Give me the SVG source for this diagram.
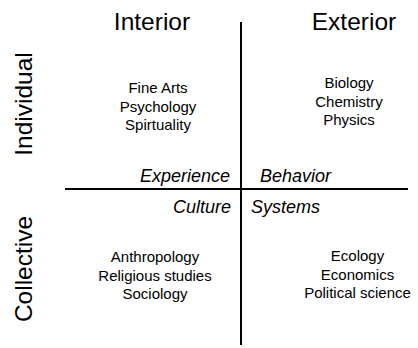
<svg xmlns="http://www.w3.org/2000/svg" width="418" height="348" viewBox="0 0 418 348">
<style>
text{font-family:"Liberation Sans",Arial,sans-serif;fill:#000}
.h{font-size:24.5px}
.s{font-size:15px;text-anchor:middle}
.i{font-size:18px;font-style:italic}
.ax{stroke:#000;stroke-width:2;fill:none}
</style>
<rect width="418" height="348" fill="#fff"/>
<g id="connectors">
<line class="ax" x1="65" y1="189" x2="408" y2="189"/>
<line class="ax" x1="241" y1="22" x2="241" y2="345"/>
</g>
<g id="interior"><text class="h" x="152" y="30" text-anchor="middle">Interior</text></g>
<g id="exterior"><text class="h" x="354" y="30" text-anchor="middle">Exterior</text></g>
<g id="individual"><text class="h" transform="translate(32,104) rotate(-90)" text-anchor="middle">Individual</text></g>
<g id="collective"><text class="h" transform="translate(32,269) rotate(-90)" text-anchor="middle">Collective</text></g>
<g id="upper-left">
<text class="s" x="158" y="93">Fine Arts</text>
<text class="s" x="158" y="111.7">Psychology</text>
<text class="s" x="158" y="130.4">Spirtuality</text>
<text class="i" x="230" y="182" text-anchor="end">Experience</text>
</g>
<g id="upper-right">
<text class="s" x="349" y="88">Biology</text>
<text class="s" x="349" y="106.7">Chemistry</text>
<text class="s" x="349" y="125.4">Physics</text>
<text class="i" x="260" y="182">Behavior</text>
</g>
<g id="lower-left">
<text class="i" x="231" y="213" text-anchor="end">Culture</text>
<text class="s" x="155" y="262">Anthropology</text>
<text class="s" x="155" y="280.5">Religious studies</text>
<text class="s" x="155" y="299">Sociology</text>
</g>
<g id="lower-right">
<text class="i" x="251" y="213">Systems</text>
<text class="s" x="357.5" y="261">Ecology</text>
<text class="s" x="357.5" y="279.5">Economics</text>
<text class="s" x="357.5" y="298">Political science</text>
</g>
</svg>
